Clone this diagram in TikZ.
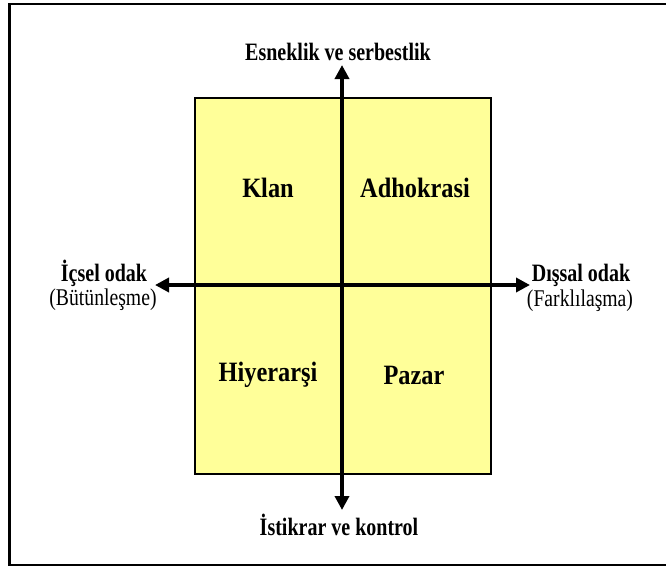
\documentclass[tikz,border=0pt]{standalone}
\usepackage{fontspec}
\setmainfont{Liberation Serif}
\usetikzlibrary{arrows.meta}
\definecolor{quadfill}{RGB}{255,255,153}
\tikzset{
  frame/.style={draw=black, line width=2.4pt},
  matrixbox/.style={draw=black, line width=2pt, fill=quadfill},
  axis/.style={line width=4pt, {Triangle[length=14pt,width=14pt]}-{Triangle[length=14pt,width=14pt]}},
  axislabel/.style={font=\fontsize{25}{28}\selectfont\bfseries, xscale=0.80, inner sep=0pt, anchor=base},
  sublabel/.style={font=\fontsize{24}{28}\selectfont, xscale=0.82, inner sep=0pt, anchor=base},
  quadlabel/.style={font=\fontsize{28}{32}\selectfont\bfseries, xscale=0.87, inner sep=0pt}
}
\begin{document}
\begin{tikzpicture}[x=1pt,y=-1pt]
  \useasboundingbox (0,0) rectangle (666,568);
  % outer frame, its right side runs past the page edge
  \begin{scope}
    \clip (0,0) rectangle (666,568);
    \draw[frame] (9.5,4) rectangle (700,565);
  \end{scope}
  % the four-quadrant box
  \draw[matrixbox] (195,98) rectangle (491,474);
  % quadrant names
  \node[quadlabel] (klan) at (268,188) {Klan};
  \node[quadlabel] (adhokrasi) at (415,188) {Adhokrasi};
  \node[quadlabel] (hiyerarsi) at (268,375) {Hiyerarşi};
  \node[quadlabel] (pazar) at (414,375) {Pazar};
  % axis end points
  \coordinate (n) at (342,65);
  \coordinate (s) at (342,510);
  \coordinate (w) at (155,285);
  \coordinate (e) at (530,285);
  \draw[axis] (s) -- (n);
  \draw[axis] (w) -- (e);
  % axis captions
  \node[axislabel] (top) at (338,60) {Esneklik ve serbestlik};
  \node[axislabel] (bottom) at (339,535) {İstikrar ve kontrol};
  \node[axislabel] (left) at (104,281) {İçsel odak};
  \node[sublabel] (leftsub) at (103,305) {(Bütünleşme)};
  \node[axislabel] (right) at (581,281) {Dışsal odak};
  \node[sublabel] (rightsub) at (580,306) {(Farklılaşma)};
\end{tikzpicture}
\end{document}
